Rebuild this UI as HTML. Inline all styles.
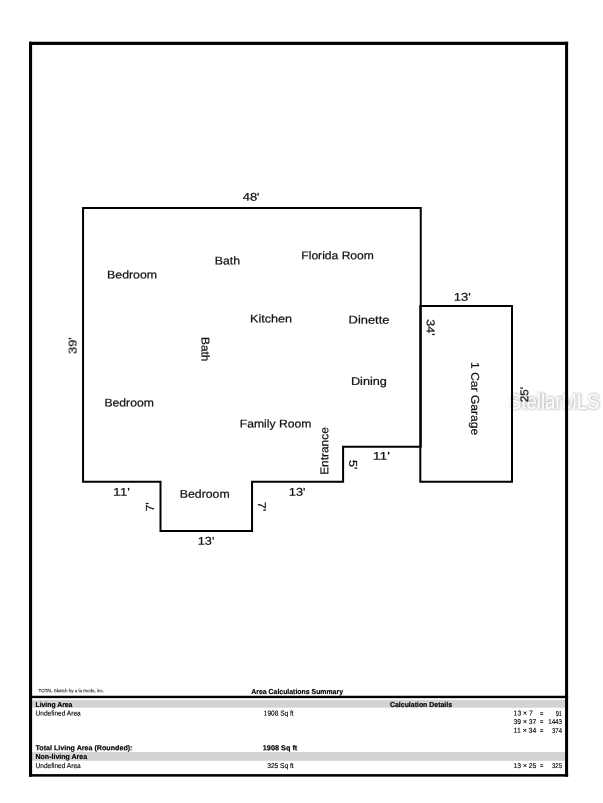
<!DOCTYPE html>
<html><head><meta charset="utf-8"><title>Sketch</title>
<style>
html,body{margin:0;padding:0;background:#fff;}
body{width:603px;height:803px;overflow:hidden;}
svg{display:block;font-family:"Liberation Sans",sans-serif;}
</style></head><body>
<svg width="603" height="803" viewBox="0 0 603 803">
<rect width="603" height="803" fill="#fff"/>
<!-- gray bands -->
<rect x="32" y="699.9" width="533.5" height="7.8" fill="#d3d3d3"/>
<rect x="32" y="752.0" width="533.5" height="8.8" fill="#d3d3d3"/>
<!-- watermark -->
<defs><filter id="wb" x="-10%" y="-30%" width="120%" height="160%"><feGaussianBlur stdDeviation="0.9"/></filter></defs>
<g font-size="22.5" opacity="0.999">
<text x="509.6" y="409.2" textLength="90.5" lengthAdjust="spacingAndGlyphs" fill="#bbb" stroke="#bbb" stroke-width="1.4" filter="url(#wb)" opacity="0.9">StellarMLS</text>
<text x="509.1" y="408.7" textLength="90.5" lengthAdjust="spacingAndGlyphs" fill="#fff">StellarMLS</text>
</g>
<!-- outer frame -->
<g fill="#000">
<rect x="29" y="41.75" width="539.1" height="3.2"/>
<rect x="29" y="774.1" width="539.1" height="2.55"/>
<rect x="29" y="41.75" width="3.1" height="734.9"/>
<rect x="565.05" y="41.75" width="3.05" height="734.9"/>
<rect x="29" y="695.75" width="539.1" height="2.4"/>
</g>
<!-- plan -->
<polygon points="83.05,207.95 420.75,207.95 420.75,446.8 343.1,446.8 343.1,481.85 252.05,481.85 252.05,531.05 160.5,531.05 160.5,481.85 83.05,481.85" fill="none" stroke="#000" stroke-width="2" stroke-linejoin="miter"/>
<path d="M420.3,306.0 H512.0 V481.85 H420.3 Z" fill="none" stroke="#000" stroke-width="2"/>
<g opacity="0.999">
<text transform="translate(242.7 200.82) rotate(0.03)" font-size="11.3" textLength="16.9" lengthAdjust="spacingAndGlyphs" fill="#111" stroke="#111" stroke-width="0.22">48'</text>
<text transform="translate(107.08 278.51) rotate(0.03)" font-size="11.3" textLength="49.96" lengthAdjust="spacingAndGlyphs" fill="#111" stroke="#111" stroke-width="0.22">Bedroom</text>
<text transform="translate(214.75 264.41) rotate(0.03)" font-size="11.3" textLength="25.25" lengthAdjust="spacingAndGlyphs" fill="#111" stroke="#111" stroke-width="0.22">Bath</text>
<text transform="translate(301.34 259.31) rotate(0.03)" font-size="11.3" textLength="72.53" lengthAdjust="spacingAndGlyphs" fill="#111" stroke="#111" stroke-width="0.22">Florida Room</text>
<text transform="translate(250.04 322.46) rotate(0.03)" font-size="11.3" textLength="42.04" lengthAdjust="spacingAndGlyphs" fill="#111" stroke="#111" stroke-width="0.22">Kitchen</text>
<text transform="translate(348.56 323.62) rotate(0.03)" font-size="11.3" textLength="40.88" lengthAdjust="spacingAndGlyphs" fill="#111" stroke="#111" stroke-width="0.22">Dinette</text>
<text transform="translate(350.92 385.06) rotate(0.03)" font-size="11.3" textLength="36.02" lengthAdjust="spacingAndGlyphs" fill="#111" stroke="#111" stroke-width="0.22">Dining</text>
<text transform="translate(104.41 406.54) rotate(0.03)" font-size="11.3" textLength="49.44" lengthAdjust="spacingAndGlyphs" fill="#111" stroke="#111" stroke-width="0.22">Bedroom</text>
<text transform="translate(239.74 427.58) rotate(0.03)" font-size="11.3" textLength="71.67" lengthAdjust="spacingAndGlyphs" fill="#111" stroke="#111" stroke-width="0.22">Family Room</text>
<text transform="translate(453.67 300.73) rotate(0.03)" font-size="11.3" textLength="17.01" lengthAdjust="spacingAndGlyphs" fill="#111" stroke="#111" stroke-width="0.22">13'</text>
<text transform="translate(372.66 459.81) rotate(0.03)" font-size="11.3" textLength="17.17" lengthAdjust="spacingAndGlyphs" fill="#111" stroke="#111" stroke-width="0.22">11'</text>
<text transform="translate(288.75 495.68) rotate(0.03)" font-size="11.3" textLength="16.78" lengthAdjust="spacingAndGlyphs" fill="#111" stroke="#111" stroke-width="0.22">13'</text>
<text transform="translate(113.04 495.78) rotate(0.03)" font-size="11.3" textLength="16.81" lengthAdjust="spacingAndGlyphs" fill="#111" stroke="#111" stroke-width="0.22">11'</text>
<text transform="translate(179.8 497.69) rotate(0.03)" font-size="11.3" textLength="49.84" lengthAdjust="spacingAndGlyphs" fill="#111" stroke="#111" stroke-width="0.22">Bedroom</text>
<text transform="translate(197.79 544.7) rotate(0.03)" font-size="11.3" textLength="16.6" lengthAdjust="spacingAndGlyphs" fill="#111" stroke="#111" stroke-width="0.22">13'</text>
<text transform="translate(201.57 336.98) rotate(90.03)" font-size="11.3" textLength="24.49" lengthAdjust="spacingAndGlyphs" fill="#111" stroke="#111" stroke-width="0.22">Bath</text>
<text transform="translate(426.72 319.25) rotate(90.03)" font-size="11.3" textLength="16.28" lengthAdjust="spacingAndGlyphs" fill="#111" stroke="#111" stroke-width="0.22">34'</text>
<text transform="translate(471.24 362.08) rotate(90.03)" font-size="11.3" textLength="73.08" lengthAdjust="spacingAndGlyphs" fill="#111" stroke="#111" stroke-width="0.22">1 Car Garage</text>
<text transform="translate(349.24 460.02) rotate(90.03)" font-size="11.3" textLength="9.41" lengthAdjust="spacingAndGlyphs" fill="#111" stroke="#111" stroke-width="0.22">5'</text>
<text transform="translate(257.9 501.87) rotate(90.03)" font-size="11.3" textLength="9.53" lengthAdjust="spacingAndGlyphs" fill="#111" stroke="#111" stroke-width="0.22">7'</text>
<text transform="translate(76.58 354.04) rotate(-89.97)" font-size="11.3" textLength="16.78" lengthAdjust="spacingAndGlyphs" fill="#111" stroke="#111" stroke-width="0.22">39'</text>
<text transform="translate(153.8 511.62) rotate(-89.97)" font-size="11.3" textLength="9.39" lengthAdjust="spacingAndGlyphs" fill="#111" stroke="#111" stroke-width="0.22">7'</text>
<text transform="translate(328.17 474.87) rotate(-89.97)" font-size="11.3" textLength="47.71" lengthAdjust="spacingAndGlyphs" fill="#111" stroke="#111" stroke-width="0.22">Entrance</text>
<text transform="translate(528.34 402.25) rotate(-89.97)" font-size="11.3" textLength="15.21" lengthAdjust="spacingAndGlyphs" fill="#111" stroke="#111" stroke-width="0.22">25'</text>
</g>
<g opacity="0.999">
<text transform="translate(38.5 692.2) rotate(0.03)" font-size="4.7" textLength="65.5" lengthAdjust="spacingAndGlyphs" fill="#222" stroke="#222" stroke-width="0.12">TOTAL Sketch by a la mode, inc.</text>
<text transform="translate(251.3 693.9) rotate(0.03)" font-size="7.25" font-weight="bold" textLength="91.7" lengthAdjust="spacingAndGlyphs" fill="#000" stroke="#000" stroke-width="0.2">Area Calculations Summary</text>
<text transform="translate(35.5 706.9) rotate(0.03)" font-size="7.25" font-weight="bold" textLength="36.9" lengthAdjust="spacingAndGlyphs" fill="#000" stroke="#000" stroke-width="0.2">Living Area</text>
<text transform="translate(390.0 707.0) rotate(0.03)" font-size="7.25" font-weight="bold" textLength="62.0" lengthAdjust="spacingAndGlyphs" fill="#000" stroke="#000" stroke-width="0.2">Calculation Details</text>
<text transform="translate(35.5 715.55) rotate(0.03)" font-size="7.0" textLength="45.2" lengthAdjust="spacingAndGlyphs" fill="#000" stroke="#000" stroke-width="0.14">Undefined Area</text>
<text transform="translate(263.8 715.55) rotate(0.03)" font-size="7.0" textLength="29.9" lengthAdjust="spacingAndGlyphs" fill="#000" stroke="#000" stroke-width="0.14">1908 Sq ft</text>
<text transform="translate(35.5 750.15) rotate(0.03)" font-size="7.25" font-weight="bold" textLength="97.0" lengthAdjust="spacingAndGlyphs" fill="#000" stroke="#000" stroke-width="0.2">Total Living Area (Rounded):</text>
<text transform="translate(262.8 750.15) rotate(0.03)" font-size="7.25" font-weight="bold" textLength="34.5" lengthAdjust="spacingAndGlyphs" fill="#000" stroke="#000" stroke-width="0.2">1908 Sq ft</text>
<text transform="translate(35.5 759.0) rotate(0.03)" font-size="7.25" font-weight="bold" textLength="51.6" lengthAdjust="spacingAndGlyphs" fill="#000" stroke="#000" stroke-width="0.2">Non-living Area</text>
<text transform="translate(35.5 768.0) rotate(0.03)" font-size="7.0" textLength="45.2" lengthAdjust="spacingAndGlyphs" fill="#000" stroke="#000" stroke-width="0.14">Undefined Area</text>
<text transform="translate(267.2 768.0) rotate(0.03)" font-size="7.0" textLength="26.5" lengthAdjust="spacingAndGlyphs" fill="#000" stroke="#000" stroke-width="0.14">325 Sq ft</text>
<text transform="translate(513.6 715.55) rotate(0.03)" font-size="7.0" textLength="19.2" lengthAdjust="spacingAndGlyphs" fill="#000" stroke="#000" stroke-width="0.14">13 × 7</text>
<text transform="translate(540.0 715.55) rotate(0.03)" font-size="7.0" textLength="3.4" lengthAdjust="spacingAndGlyphs" fill="#000" stroke="#000" stroke-width="0.14">=</text>
<text transform="translate(555.7 715.55) rotate(0.03)" font-size="7.0" textLength="6.3" lengthAdjust="spacingAndGlyphs" fill="#000" stroke="#000" stroke-width="0.14">91</text>
<text transform="translate(513.6 724.0) rotate(0.03)" font-size="7.0" textLength="22.7" lengthAdjust="spacingAndGlyphs" fill="#000" stroke="#000" stroke-width="0.14">39 × 37</text>
<text transform="translate(540.0 724.0) rotate(0.03)" font-size="7.0" textLength="3.4" lengthAdjust="spacingAndGlyphs" fill="#000" stroke="#000" stroke-width="0.14">=</text>
<text transform="translate(548.2 724.0) rotate(0.03)" font-size="7.0" textLength="13.8" lengthAdjust="spacingAndGlyphs" fill="#000" stroke="#000" stroke-width="0.14">1443</text>
<text transform="translate(513.6 732.8) rotate(0.03)" font-size="7.0" textLength="22.7" lengthAdjust="spacingAndGlyphs" fill="#000" stroke="#000" stroke-width="0.14">11 × 34</text>
<text transform="translate(540.0 732.8) rotate(0.03)" font-size="7.0" textLength="3.4" lengthAdjust="spacingAndGlyphs" fill="#000" stroke="#000" stroke-width="0.14">=</text>
<text transform="translate(552.0 732.8) rotate(0.03)" font-size="7.0" textLength="10.0" lengthAdjust="spacingAndGlyphs" fill="#000" stroke="#000" stroke-width="0.14">374</text>
<text transform="translate(513.6 767.9) rotate(0.03)" font-size="7.0" textLength="22.7" lengthAdjust="spacingAndGlyphs" fill="#000" stroke="#000" stroke-width="0.14">13 × 25</text>
<text transform="translate(540.0 767.9) rotate(0.03)" font-size="7.0" textLength="3.4" lengthAdjust="spacingAndGlyphs" fill="#000" stroke="#000" stroke-width="0.14">=</text>
<text transform="translate(552.0 767.9) rotate(0.03)" font-size="7.0" textLength="10.0" lengthAdjust="spacingAndGlyphs" fill="#000" stroke="#000" stroke-width="0.14">325</text>
</g>
</svg>
</body></html>
